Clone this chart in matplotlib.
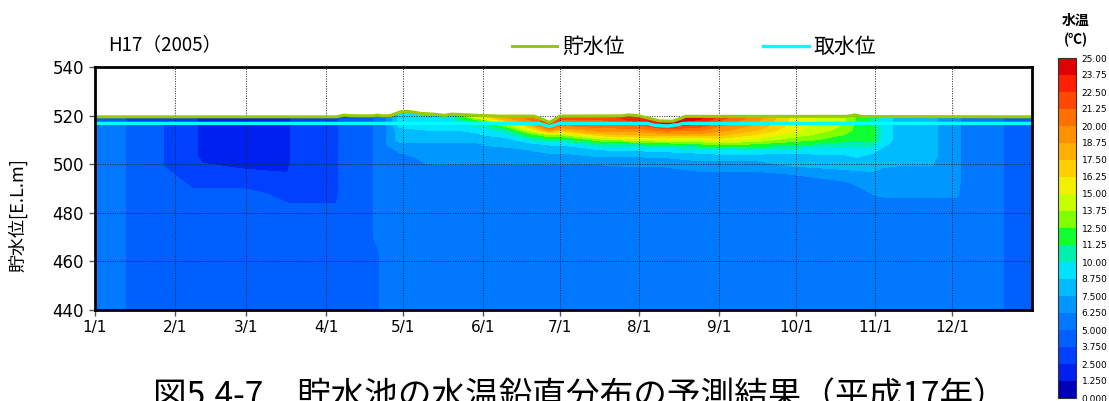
import numpy as np
import matplotlib
matplotlib.use("Agg")
import matplotlib.pyplot as plt

JP = ['Noto Sans CJK JP', 'DejaVu Sans']

# ---- simulated water-temperature profiles (deg C) -------------------------
# elevation of each profile level [E.L. m], bottom to top
elev = [440, 462, 470, 480, 488, 492, 496, 500, 503, 506, 508, 510, 512, 514, 516, 518, 520, 523]

# day of year (Jan 1 = 0) of each profile
days = [0, 11, 13, 25, 28, 33, 38, 42, 58, 75, 77, 94, 96, 107, 110, 112,
        115, 119, 130, 138, 142, 148, 152, 160, 170, 177, 182, 197, 212, 222,
        236, 245, 258, 272, 292, 297, 303, 307, 314, 326, 330, 336, 338, 353,
        355, 365]

winter_profiles = [
    [5.6, 5.6, 5.6, 5.6, 5.6, 5.6, 5.6, 5.6, 5.6, 5.6, 5.6, 5.6, 5.6, 5.6, 5.6, 4.4, 4.4, 4.4],
    [5.6, 5.6, 5.6, 5.6, 5.6, 5.6, 5.6, 5.6, 5.6, 5.6, 5.6, 5.6, 5.6, 5.6, 5.6, 4.4, 4.4, 4.4],
    [4.4, 4.4, 4.4, 4.4, 4.4, 4.4, 4.4, 4.4, 4.4, 4.4, 4.4, 4.4, 4.4, 4.4, 4.4, 3.1, 3.1, 3.1],
    [4.4, 4.4, 4.4, 4.4, 4.4, 4.4, 4.4, 4.4, 4.4, 4.4, 4.4, 4.4, 4.4, 4.4, 4.4, 3.1, 3.1, 3.1],
    [4.4, 4.4, 4.4, 4.4, 4.4, 4.4, 4.4, 3.1, 3.1, 3.1, 3.1, 3.1, 3.1, 3.1, 3.1, 3.1, 3.1, 3.1],
    [4.4, 4.4, 4.4, 4.4, 4.4, 4.4, 3.1, 3.1, 3.1, 3.1, 3.1, 3.1, 3.1, 3.1, 3.1, 3.1, 3.1, 3.1],
    [4.4, 4.4, 4.4, 4.4, 4.4, 3.1, 3.1, 3.1, 3.1, 3.1, 3.1, 3.1, 3.1, 3.1, 3.1, 3.1, 3.1, 3.1],
    [4.4, 4.4, 4.4, 4.4, 4.4, 3.1, 3.1, 2.6, 1.9, 1.9, 1.9, 1.9, 1.9, 1.9, 1.9, 1.9, 1.9, 1.9],
    [4.4, 4.4, 4.4, 4.4, 4.4, 3.1, 3.1, 1.9, 1.9, 1.9, 1.9, 1.9, 1.9, 1.9, 1.9, 1.9, 1.9, 1.9],
    [4.4, 4.4, 4.4, 4.4, 3.1, 3.1, 2.6, 1.9, 1.9, 1.9, 1.9, 1.9, 1.9, 1.9, 1.9, 1.9, 1.9, 1.9],
    [4.4, 4.4, 4.4, 4.4, 3.1, 3.1, 3.1, 3.1, 3.1, 3.1, 3.1, 3.1, 3.1, 3.1, 3.1, 3.1, 3.1, 3.1],
    [4.4, 4.4, 4.4, 4.4, 3.1, 3.1, 3.1, 3.1, 3.1, 3.1, 3.1, 3.1, 3.1, 3.1, 3.1, 3.1, 3.1, 3.1],
]

spring_profiles = [
    [4.4, 4.4, 4.4, 4.4, 4.4, 4.4, 4.4, 4.4, 4.4, 4.4, 4.4, 4.4, 4.4, 4.4, 4.4, 4.4, 4.4, 4.4],
    [4.4, 4.4, 4.4, 4.4, 4.4, 4.4, 4.4, 4.4, 4.4, 4.4, 4.4, 4.4, 4.4, 4.4, 4.4, 4.4, 4.4, 4.4],
    [4.4, 4.4, 5.6, 5.6, 5.6, 5.6, 5.6, 5.6, 5.6, 5.6, 5.6, 5.6, 5.6, 5.6, 5.6, 5.6, 5.6, 5.6],
    [5.6, 5.6, 5.6, 5.6, 5.6, 5.6, 5.6, 5.6, 5.6, 5.6, 5.6, 5.6, 5.6, 5.6, 5.6, 5.6, 5.6, 5.6],
    [5.6, 5.6, 5.6, 5.6, 5.6, 5.6, 5.6, 5.6, 5.6, 5.6, 6.9, 6.9, 6.9, 6.9, 6.9, 6.9, 6.9, 6.9],
    [5.6, 5.6, 5.6, 5.6, 5.6, 5.6, 5.6, 5.6, 5.6, 6.9, 6.9, 8.1, 8.1, 8.1, 9.4, 9.4, 9.4, 9.4],
    [5.6, 5.6, 5.6, 5.6, 5.6, 5.6, 5.6, 6.3, 6.9, 6.9, 6.9, 8.1, 8.1, 8.8, 9.4, 9.4, 9.4, 9.4],
    [5.6, 5.6, 5.6, 5.6, 5.6, 5.6, 5.6, 6.3, 6.9, 6.9, 6.9, 8.1, 8.1, 8.8, 9.4, 9.4, 9.4, 9.4],
    [5.6, 5.6, 5.6, 5.6, 5.6, 5.6, 5.6, 6.3, 6.9, 6.9, 6.9, 8.1, 8.1, 8.8, 9.4, 10.6, 11.9, 11.9],
    [5.6, 5.6, 5.6, 5.6, 5.6, 5.6, 5.6, 6.3, 6.9, 6.9, 6.9, 8.1, 8.1, 9.4, 10.6, 11.9, 15.6, 15.6],
]

summer_profiles = [
    [5.6, 5.6, 5.6, 5.6, 5.6, 5.6, 5.6, 6.3, 6.9, 6.9, 7.6, 8.1, 8.8, 9.4, 10.6, 13.1, 16.9, 16.9],
    [5.6, 5.6, 5.6, 5.6, 5.6, 5.6, 5.6, 6.3, 6.9, 6.9, 8.1, 8.1, 9.4, 10.6, 13.1, 17.5, 19.4, 20.6],
    [5.6, 5.6, 5.6, 5.6, 5.6, 5.6, 5.6, 6.3, 6.9, 7.6, 8.1, 10.0, 11.9, 15.0, 18.1, 20.0, 20.6, 21.9],
    [5.6, 5.6, 5.6, 5.6, 5.6, 5.6, 5.6, 6.3, 6.9, 8.1, 8.8, 10.6, 13.5, 19.0, 22.5, 22.5, 22.5, 22.5],
    [5.6, 5.6, 5.6, 5.6, 5.6, 5.6, 5.6, 6.3, 6.9, 8.1, 8.8, 10.6, 13.5, 17.5, 20.0, 21.0, 21.9, 22.5],
    [5.6, 5.6, 5.6, 5.6, 5.6, 5.6, 5.6, 6.3, 7.5, 8.8, 10.6, 13.1, 16.9, 19.4, 20.6, 21.0, 21.9, 22.5],
    [5.6, 5.6, 5.6, 5.6, 5.6, 5.6, 5.6, 6.5, 7.5, 9.0, 10.6, 14.4, 17.5, 19.4, 21.0, 23.1, 24.0, 24.4],
    [5.6, 5.6, 5.6, 5.6, 5.6, 5.6, 5.6, 6.5, 7.6, 9.2, 11.0, 14.8, 18.0, 20.5, 23.5, 24.4, 24.4, 24.4],
    [5.6, 5.6, 5.6, 5.6, 5.6, 5.6, 6.0, 7.0, 8.1, 9.4, 12.0, 15.0, 18.1, 20.0, 21.9, 23.5, 24.4, 24.4],
    [5.6, 5.6, 5.6, 5.6, 5.6, 5.6, 6.0, 7.0, 8.1, 10.0, 12.5, 15.5, 17.5, 19.0, 20.0, 21.0, 22.0, 22.5],
    [5.6, 5.6, 5.6, 5.6, 5.6, 5.6, 6.0, 7.0, 8.1, 9.8, 12.0, 14.5, 16.0, 17.5, 18.5, 19.0, 19.4, 19.4],
]

autumn_profiles = [
    [5.6, 5.6, 5.6, 5.6, 5.6, 5.6, 6.3, 7.8, 8.1, 9.5, 11.5, 13.0, 14.4, 15.3, 15.6, 15.8, 16.0, 16.0],
    [5.6, 5.6, 5.6, 5.6, 5.6, 6.0, 7.0, 8.1, 8.5, 9.4, 10.2, 11.9, 12.4, 13.2, 13.6, 13.8, 14.0, 14.0],
    [5.6, 5.6, 5.6, 5.6, 5.8, 6.4, 7.2, 8.1, 8.8, 9.6, 10.6, 11.5, 11.9, 12.0, 12.0, 12.2, 12.3, 12.5],
    [5.6, 5.6, 5.6, 5.6, 6.3, 6.9, 7.3, 8.1, 8.1, 9.4, 10.3, 11.6, 11.9, 11.9, 11.5, 10.8, 10.6, 10.6],
    [5.6, 5.6, 5.6, 5.6, 6.4, 6.9, 6.9, 7.8, 8.1, 8.4, 9.0, 9.4, 9.4, 9.4, 9.4, 9.4, 9.4, 9.4],
    [5.6, 5.6, 5.6, 5.6, 6.4, 6.9, 6.9, 7.6, 8.1, 8.1, 8.1, 8.1, 8.1, 8.1, 8.1, 8.1, 8.1, 8.1],
    [5.6, 5.6, 5.6, 5.6, 6.4, 6.9, 6.9, 7.6, 8.1, 8.1, 8.1, 8.1, 8.1, 8.1, 8.1, 8.1, 8.1, 8.1],
    [5.6, 5.6, 5.6, 5.6, 6.4, 6.9, 6.9, 6.9, 6.9, 6.9, 6.9, 6.9, 6.9, 6.9, 6.9, 6.9, 6.9, 6.9],
    [5.6, 5.6, 5.6, 5.6, 6.4, 6.9, 6.9, 6.9, 6.9, 6.9, 6.9, 6.9, 6.9, 6.9, 6.9, 6.9, 6.9, 6.9],
    [5.6, 5.6, 5.6, 5.6, 5.6, 5.6, 5.6, 5.6, 5.6, 5.6, 5.6, 5.6, 5.6, 5.6, 5.6, 5.6, 5.6, 5.6],
    [5.6, 5.6, 5.6, 5.6, 5.6, 5.6, 5.6, 5.6, 5.6, 5.6, 5.6, 5.6, 5.6, 5.6, 5.6, 5.6, 5.6, 5.6],
    [4.4, 4.4, 4.4, 4.4, 4.4, 4.4, 4.4, 4.4, 4.4, 4.4, 4.4, 4.4, 4.4, 4.4, 4.4, 4.4, 4.4, 4.4],
    [4.4, 4.4, 4.4, 4.4, 4.4, 4.4, 4.4, 4.4, 4.4, 4.4, 4.4, 4.4, 4.4, 4.4, 4.4, 4.4, 4.4, 4.4],
]

# ---- reservoir water level and intake level ------------------------------
surf_days = [0, 94, 97, 99, 103, 108, 110, 112, 115, 117, 119, 121, 123, 127,
             132, 136, 139, 143, 151, 158, 171, 174, 177, 179, 181, 205, 208,
             212, 216, 220, 225, 228, 230, 260, 293, 296, 299, 365]
surf_elev = [519.5, 519.5, 520.2, 520.0, 519.9, 519.9, 520.2, 519.9, 520.0,
             520.8, 521.6, 521.8, 521.6, 520.9, 520.6, 520.1, 520.6, 520.4,
             520.0, 519.8, 519.8, 518.6, 517.2, 518.4, 519.8, 519.9, 520.3,
             519.9, 518.8, 517.8, 517.7, 518.8, 519.7, 519.7, 519.7, 520.3,
             519.6, 519.5]

intake_days = [0, 173, 177, 179, 181, 215, 218, 223, 227, 229, 365]
intake_elev = [516.8, 516.8, 515.5, 516.2, 516.8, 516.8, 516.0, 515.7, 516.2, 516.8, 516.8]

# ---- axes labels ----------------------------------------------------------
month_days = [0, 31, 59, 90, 120, 151, 181, 212, 243, 273, 304, 334]
month_labels = ['1/1', '2/1', '3/1', '4/1', '5/1', '6/1', '7/1', '8/1',
                '9/1', '10/1', '11/1', '12/1']
elev_ticks = [440, 460, 480, 500, 520, 540]

# colour classes of the temperature scale
temp_levels = [0.0, 1.25, 2.5, 3.75, 5.0, 6.25, 7.5, 8.75, 10.0, 11.25, 12.5,
               13.75, 15.0, 16.25, 17.5, 18.75, 20.0, 21.25, 22.5, 23.75, 25.0]
temp_labels = ['0.000', '1.250', '2.500', '3.750', '5.000', '6.250', '7.500',
               '8.750', '10.00', '11.25', '12.50', '13.75', '15.00', '16.25',
               '17.50', '18.75', '20.00', '21.25', '22.50', '23.75', '25.00']
band_colors = ['#0000b4', '#0020f0', '#0040ff', '#0060ff', '#0078ff',
               '#0098ff', '#00bcff', '#00e4ff', '#00f0b0', '#10ff30',
               '#80ff00', '#c8ff00', '#f0f000', '#ffd000', '#ffb000',
               '#ff9000', '#ff7000', '#ff4800', '#ff2000', '#e00000']

# ---- figure ---------------------------------------------------------------
W, H = 1109, 401
fig = plt.figure(figsize=(W / 100, H / 100), dpi=100)
ax = fig.add_axes([95 / W, 1 - 310 / H, (1032 - 95) / W, (310 - 67) / H])

profiles = winter_profiles + spring_profiles + summer_profiles + autumn_profiles
temp = np.array(profiles).T

cs = ax.contourf(days, elev, temp, levels=temp_levels, colors=band_colors,
                 antialiased=False, zorder=1)

# blank out everything above the water surface
ax.fill_between(surf_days, surf_elev, 541, color='white', lw=0, zorder=1.5)

ax.plot(surf_days, surf_elev, color='#99cc00', lw=2.2, label='貯水位',
        zorder=4, solid_joinstyle='round')
ax.plot(intake_days, intake_elev, color='#00ffff', lw=2.4, label='取水位',
        zorder=3)

ax.set_xlim(0, 365)
ax.set_ylim(440, 540)
ax.set_xticks(month_days)
ax.set_xticklabels(month_labels, family='DejaVu Sans', fontsize=11)
ax.set_yticks(elev_ticks)
ax.set_yticklabels([str(v) for v in elev_ticks], family='DejaVu Sans', fontsize=12)
ax.tick_params(axis='both', direction='out', length=4, width=1, color='#555555')
ax.tick_params(axis='x', pad=3)
ax.tick_params(axis='y', pad=4)

ax.set_axisbelow(False)
ax.grid(True, color='#222222', linestyle=(0, (1, 1.5)), linewidth=0.7)
for s in ax.spines.values():
    s.set_linewidth(2)
    s.set_color('black')
    s.set_zorder(5)

fig.text(18 / W, 1 - 215 / H, '貯水位[E.L.m]', rotation=90, ha='center',
         va='center', family=JP, fontsize=13)
fig.text(108 / W, 1 - 45 / H, 'H17（2005）', ha='left', va='center',
         family=JP, fontsize=13.5)

ax.legend(loc='center', bbox_to_anchor=(694 / W, 1 - 47 / H),
          bbox_transform=fig.transFigure, ncol=2, frameon=False,
          prop={'family': JP, 'size': 15}, handlelength=2.2,
          handletextpad=0.25, columnspacing=6.6)

# colour scale
cax = fig.add_axes([1058 / W, 1 - 398 / H, 18 / W, 340 / H])
cb = fig.colorbar(cs, cax=cax, ticks=temp_levels)
cb.ax.set_yticklabels(temp_labels, family='DejaVu Sans', fontsize=6.5)
cb.ax.tick_params(length=0, pad=4)
cb.outline.set_linewidth(0.8)
cb.outline.set_edgecolor('#333333')

fig.text(1076 / W, 1 - 21 / H, '水温', ha='center', va='center', family=JP,
         fontsize=10, weight='bold')
fig.text(1076 / W, 1 - 40 / H, '(℃)', ha='center', va='center', family=JP,
         fontsize=10, weight='bold')

fig.text(580 / W, 1 - 379 / H, '図5.4-7　貯水池の水温鉛直分布の予測結果（平成17年）',
         ha='center', va='top', family=JP, fontsize=24.2)

fig.savefig('out.png', dpi=100)
